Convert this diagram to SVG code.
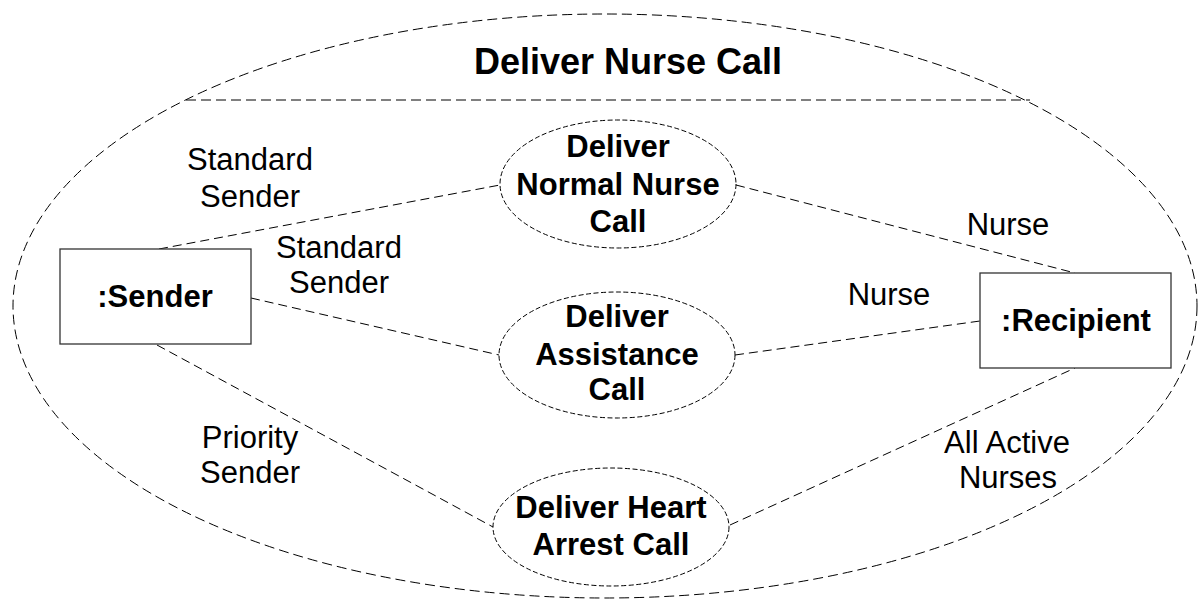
<svg xmlns="http://www.w3.org/2000/svg" width="1198" height="599" viewBox="0 0 1198 599">
<style>
.bg{fill:#fff}
.frame{fill:none;stroke:#000;stroke-width:1;stroke-dasharray:10,5}
.uc{fill:#fff;stroke:#000;stroke-width:1;stroke-dasharray:5,2.5}
.box{fill:#fff;stroke:#333;stroke-width:1.3}
.conn{fill:none;stroke:#000;stroke-width:1;stroke-dasharray:9,5}
.t{font-family:"Liberation Sans",Arial,sans-serif;font-size:31px;fill:#000;text-anchor:middle}
.b{font-weight:bold}
.title{font-size:36px}
</style>
<rect class="bg" x="0" y="0" width="1198" height="599"/>
<g id="collaboration">
<ellipse class="frame" cx="605" cy="306" rx="592" ry="292"/>
<line class="frame" x1="186" y1="100" x2="1030" y2="100"/>
<text class="t b title" x="628" y="74">Deliver Nurse Call</text>
</g>
<g id="connectors">
<line class="conn" x1="159" y1="249" x2="500" y2="185"/>
<line class="conn" x1="251" y1="298" x2="499" y2="355"/>
<line class="conn" x1="157" y1="345" x2="493" y2="527"/>
<line class="conn" x1="736" y1="185" x2="1075" y2="273"/>
<line class="conn" x1="735" y1="355" x2="980" y2="321"/>
<line class="conn" x1="730" y1="525" x2="1075" y2="368"/>
<text class="t" x="250" y="170">Standard</text>
<text class="t" x="250" y="207">Sender</text>
<text class="t" x="339" y="258">Standard</text>
<text class="t" x="339" y="293">Sender</text>
<text class="t" x="250" y="448">Priority</text>
<text class="t" x="250" y="483">Sender</text>
<text class="t" x="1008" y="235">Nurse</text>
<text class="t" x="889" y="305">Nurse</text>
<text class="t" x="1007" y="453">All Active</text>
<text class="t" x="1008" y="488">Nurses</text>
</g>
<g id="sender">
<rect class="box" x="60" y="249" width="191" height="95"/>
<text class="t b" x="155" y="307">:Sender</text>
</g>
<g id="recipient">
<rect class="box" x="980" y="273" width="191" height="95"/>
<text class="t b" x="1076" y="331">:Recipient</text>
</g>
<g id="uc-normal">
<ellipse class="uc" cx="618" cy="184" rx="118" ry="64"/>
<text class="t b" x="618" y="157">Deliver</text>
<text class="t b" x="618" y="195">Normal Nurse</text>
<text class="t b" x="618" y="232">Call</text>
</g>
<g id="uc-assistance">
<ellipse class="uc" cx="617" cy="355" rx="118" ry="63"/>
<text class="t b" x="617" y="327">Deliver</text>
<text class="t b" x="617" y="365">Assistance</text>
<text class="t b" x="617" y="400">Call</text>
</g>
<g id="uc-heart">
<ellipse class="uc" cx="611" cy="527" rx="118" ry="59"/>
<text class="t b" x="611" y="518">Deliver Heart</text>
<text class="t b" x="611" y="555">Arrest Call</text>
</g>
</svg>
